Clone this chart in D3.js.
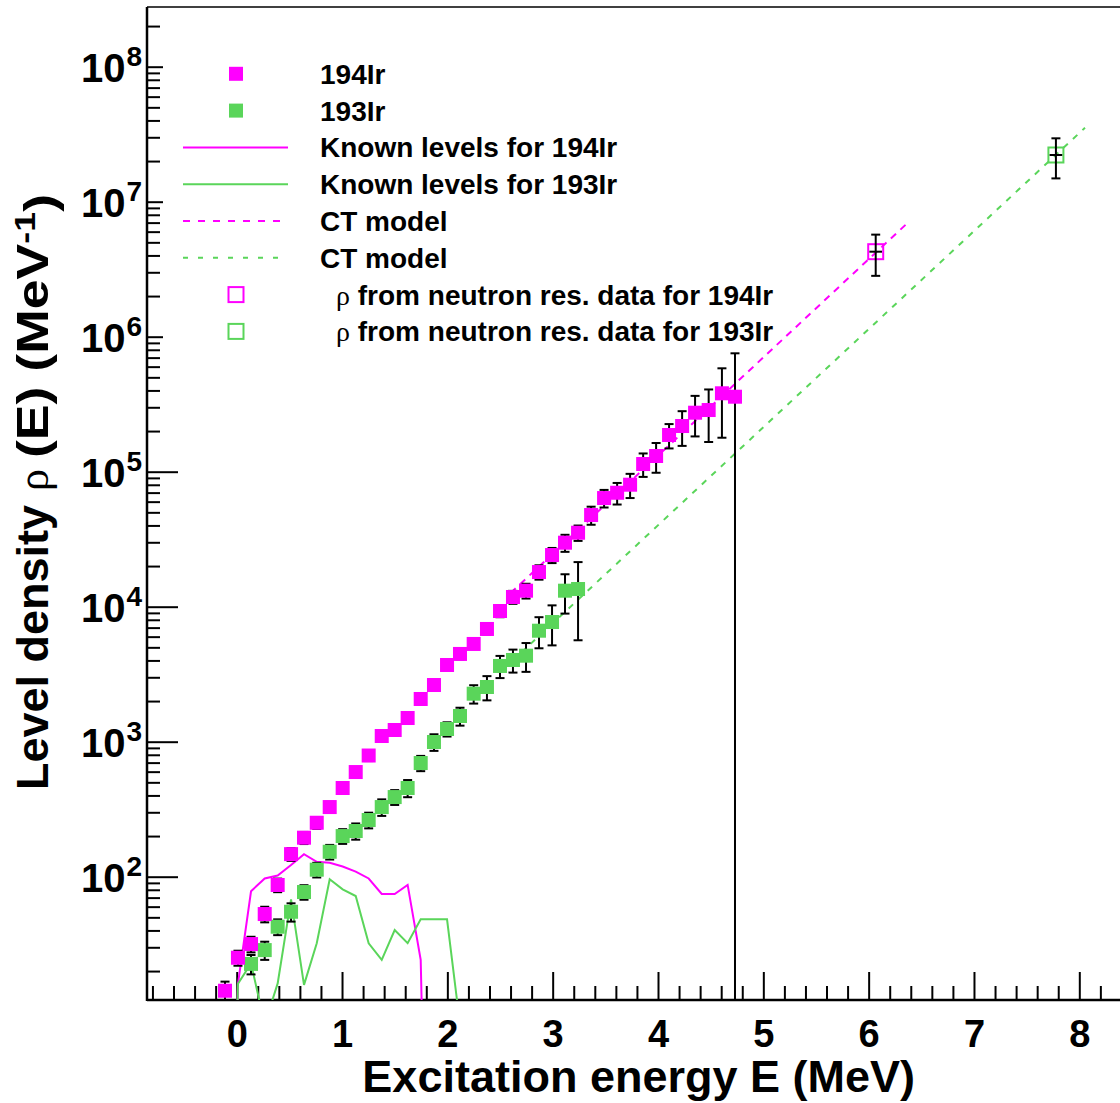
<!DOCTYPE html>
<html><head><meta charset="utf-8">
<script src="https://cdn.jsdelivr.net/npm/d3@7"></script>
<style>
body{margin:0;background:#fff}
svg{display:block}
text{font-family:"Liberation Sans",Arial,Helvetica,sans-serif;font-weight:bold;fill:#000}
</style>
</head><body>
<svg id="c" width="1120" height="1103"></svg>
<script>
// ---------------- data ----------------
const energy194 = [-0.111,0.012,0.136,0.266,0.389,0.516,0.639,0.760,0.883,1.006,1.130,1.253,1.377,1.500,1.623,1.747,1.873,1.997,2.120,2.250,2.376,2.500,2.623,2.747,2.870,2.994,3.117,3.241,3.365,3.488,3.612,3.735,3.859,3.982,4.105,4.229,4.352,4.481,4.607,4.731];
const rho194 = [14.3,25.1,31.7,52.9,86.8,147,194.5,251,328,454,596,790,1102,1221,1498,2072,2630,3700,4467,5297,6840,9290,11800,13140,18060,24140,29790,35320,47760,63800,69830,80100,114000,130700,187000,218000,273500,286300,380900,359300];
const err194 = [2.4,3.2,4.2,7.0,10,16,20,25,31,41,54,71,99,110,135,187,237,330,400,440,620,930,1300,1650,2200,3100,4300,4600,7300,9500,12700,16300,22500,32500,38300,62700,91000,120300,202400,394000];

const energy193 = [0.136,0.266,0.389,0.516,0.639,0.760,0.883,1.006,1.130,1.253,1.377,1.500,1.623,1.747,1.873,1.997,2.120,2.250,2.376,2.500,2.623,2.747,2.870,2.994,3.117,3.241];
const rho193 = [22.6,28.6,42.6,55.0,77.0,112.7,153,200,218,263,328,389,454,695,995,1242,1550,2268,2542,3640,4030,4336,6640,7700,13140,13520];
const err193 = [3.7,4.4,5.7,8.5,9.5,14,19,25,30,35,46,49,66,90,140,150,235,352,518,680,780,1045,1720,2530,4250,7880];

// known discrete levels (per MeV), same binning
const levelE = [-0.111,0.012,0.136,0.266,0.389,0.516,0.639,0.760,0.883,1.006,1.130,1.253,1.377,1.500,1.623,1.747,1.873,1.997,2.120,2.250];
const known194 = [0,16.1,78,97,102,122,147,129,127,119,109,97,74.5,74.5,87,24.2,0,0,0,0];
const known193 = [0,16.1,22.8,8.06,16.2,68,15.8,32.1,95.7,80.6,71.9,32.1,24.2,40.3,32.2,48.3,48.3,48.3,8.06,0];

// constant-temperature model lines (end points)
const ct194E = [2.60,6.36], ct194Rho = [12610,6.85e6];
const ct193E = [2.70,8.054], ct193Rho = [4560,3.53e7];

// rho from neutron resonance data
const nE194 = [6.067], nRho194 = [4.263e6], nErr194 = [1.44e6], nXErr194 = [0.06];
const nE193 = [7.778], nRho193 = [2.218e7], nErr193 = [7.3e6], nXErr193 = [0.06];

// ticks
const xMajor = [0,1,2,3,4,5,6,7,8];
const yMajor = [1e2,1e3,1e4,1e5,1e6,1e7,1e8];
const yExp = ["2","3","4","5","6","7","8"];

const legendLabels = ["194Ir","193Ir","Known levels for 194Ir","Known levels for 193Ir","CT model","CT model"," from neutron res. data for 194Ir"," from neutron res. data for 193Ir"];

// ---------------- drawing ----------------
const MAG = "#ff00ff", GRN = "#5ad55a";
const L = 147, T = 7, B = 1000, R = 1130;
const x = d3.scaleLinear().domain([0,8]).range([236.7,1079.3]);
const y = d3.scaleLog().domain([1e2,1e8]).range([876.7,66.7]);
const FLOOR = 1e-3;
const yv = v => y(v > 0 ? v : FLOOR);

const svg = d3.select("#c");
svg.append("defs").append("clipPath").attr("id","clip")
  .append("rect").attr("x",L).attr("y",T).attr("width",R-L).attr("height",B-T);

// axes ticks
const xMinor = d3.range(-8, 83, 2).map(v => v/10).filter(v => Math.abs(v - Math.round(v)) > 1e-6);
const gxMin = svg.append("g").attr("transform",`translate(0,${B})`)
  .call(d3.axisBottom(x).tickValues(xMinor).tickSize(-14).tickFormat(""));
const gxMaj = svg.append("g").attr("transform",`translate(0,${B})`)
  .call(d3.axisBottom(x).tickValues(xMajor).tickSize(-28).tickPadding(20).tickFormat(d3.format("d")));
gxMaj.selectAll("text").style("font-size","38px");

const yMinor = [];
for (let e = 1; e <= 8; e++) for (let m = 2; m <= 9; m++) { const v = m*Math.pow(10,e); if (v > 12.2 && v < 2.77e8) yMinor.push(v); }
const gyMin = svg.append("g").attr("transform",`translate(${L},0)`)
  .call(d3.axisLeft(y).tickValues(yMinor).tickSize(-13).tickFormat(""));
const gyMaj = svg.append("g").attr("transform",`translate(${L},0)`)
  .call(d3.axisLeft(y).tickValues(yMajor.slice(0,4)).tickSize(-31).tickFormat(""));
const gyMaj2 = svg.append("g").attr("transform",`translate(${L},0)`)
  .call(d3.axisLeft(y).tickValues(yMajor.slice(4)).tickSize(-16).tickFormat(""));
const gyLab = svg.append("g").attr("transform",`translate(${L},0)`)
  .call(d3.axisLeft(y).tickValues(yMajor).tickSize(0).tickPadding(5).tickFormat(() => "10"));
gyLab.selectAll("text").style("font-size","40px").attr("dy","0.36em").attr("textLength",null)
  .each(function(d,i){
    const t = d3.select(this);
    t.append("tspan").attr("dx","1").attr("dy","-0.55em").style("font-size","28px").text(yExp[i]);
  });
[gxMin,gxMaj,gyMin,gyMaj,gyMaj2,gyLab].forEach(g => { g.select(".domain").remove(); g.selectAll("line").attr("stroke","#000").attr("stroke-width",2); });

// frame lines
svg.append("line").attr("x1",L).attr("x2",1120).attr("y1",B).attr("y2",B).attr("stroke","#000").attr("stroke-width",2.5);
svg.append("line").attr("x1",L).attr("x2",L).attr("y1",T).attr("y2",B+1).attr("stroke","#000").attr("stroke-width",2.5);
svg.append("line").attr("x1",L).attr("x2",1120).attr("y1",T).attr("y2",T).attr("stroke","#000").attr("stroke-width",1.5);

const plot = svg.append("g").attr("clip-path","url(#clip)");
const line = d3.line().x(d => x(d[0])).y(d => yv(d[1]));

// known levels
plot.append("path").datum(levelE.map((e,i)=>[e,known194[i]])).attr("d",line)
  .attr("fill","none").attr("stroke",MAG).attr("stroke-width",2);
plot.append("path").datum(levelE.map((e,i)=>[e,known193[i]])).attr("d",line)
  .attr("fill","none").attr("stroke",GRN).attr("stroke-width",2);

// CT model
plot.append("path").datum(ct194E.map((e,i)=>[e,ct194Rho[i]])).attr("d",line)
  .attr("fill","none").attr("stroke",MAG).attr("stroke-width",2).attr("stroke-dasharray","7,6");
plot.append("path").datum(ct193E.map((e,i)=>[e,ct193Rho[i]])).attr("d",line)
  .attr("fill","none").attr("stroke",GRN).attr("stroke-width",2).attr("stroke-dasharray","6,7");

// error bars
function errBars(E, V, Er, cap) {
  const g = plot.append("g").attr("stroke","#000").attr("stroke-width",2);
  E.forEach((e,i) => {
    const cx = x(e), top = yv(V[i]+Er[i]), bot = yv(V[i]-Er[i]);
    g.append("line").attr("x1",cx).attr("x2",cx).attr("y1",top).attr("y2",bot);
    g.append("line").attr("x1",cx-cap).attr("x2",cx+cap).attr("y1",top).attr("y2",top);
    if (V[i]-Er[i] > 0) g.append("line").attr("x1",cx-cap).attr("x2",cx+cap).attr("y1",bot).attr("y2",bot);
  });
}
errBars(energy193, rho193, err193, 4.5);
errBars(energy194, rho194, err194, 4.5);

// markers
function squares(E, V, col) {
  plot.append("g").selectAll("rect").data(E).join("rect")
    .attr("x",(e)=>x(e)-7).attr("y",(e,i)=>yv(V[i])-7).attr("width",14).attr("height",14).attr("fill",col);
}
squares(energy193, rho193, GRN);
squares(energy194, rho194, MAG);

// neutron resonance points
function nPoint(E, V, Er, XEr, col) {
  E.forEach((e,i) => {
    const cx = x(e), cy = yv(V[i]);
    plot.append("rect").attr("x",cx-7.5).attr("y",cy-7.5).attr("width",15).attr("height",15)
      .attr("fill","none").attr("stroke",col).attr("stroke-width",2);
    const g = plot.append("g").attr("stroke","#000").attr("stroke-width",2);
    const top = yv(V[i]+Er[i]), bot = yv(V[i]-Er[i]);
    g.append("line").attr("x1",cx).attr("x2",cx).attr("y1",top).attr("y2",bot);
    g.append("line").attr("x1",cx-4.5).attr("x2",cx+4.5).attr("y1",top).attr("y2",top);
    g.append("line").attr("x1",cx-4.5).attr("x2",cx+4.5).attr("y1",bot).attr("y2",bot);
    g.append("line").attr("x1",x(e-XEr[i])).attr("x2",x(e+XEr[i])).attr("y1",cy).attr("y2",cy);
  });
}
nPoint(nE194, nRho194, nErr194, nXErr194, MAG);
nPoint(nE193, nRho193, nErr193, nXErr193, GRN);

// legend
const rows = [73.8,110.6,147.4,184.2,221,257.8,294.6,331.4];
const lg = svg.append("g");
const mx = 236;
lg.append("rect").attr("x",mx-7).attr("y",rows[0]-7).attr("width",14).attr("height",14).attr("fill",MAG);
lg.append("rect").attr("x",mx-7).attr("y",rows[1]-7).attr("width",14).attr("height",14).attr("fill",GRN);
lg.append("line").attr("x1",183).attr("x2",288).attr("y1",rows[2]).attr("y2",rows[2]).attr("stroke",MAG).attr("stroke-width",2);
lg.append("line").attr("x1",183).attr("x2",288).attr("y1",rows[3]).attr("y2",rows[3]).attr("stroke",GRN).attr("stroke-width",2);
lg.append("line").attr("x1",183).attr("x2",288).attr("y1",rows[4]).attr("y2",rows[4]).attr("stroke",MAG).attr("stroke-width",2).attr("stroke-dasharray","7,8");
lg.append("line").attr("x1",183).attr("x2",288).attr("y1",rows[5]).attr("y2",rows[5]).attr("stroke",GRN).attr("stroke-width",2).attr("stroke-dasharray","5,10");
lg.append("rect").attr("x",mx-7.5).attr("y",rows[6]-7.5).attr("width",15).attr("height",15).attr("fill","none").attr("stroke",MAG).attr("stroke-width",2);
lg.append("rect").attr("x",mx-7.5).attr("y",rows[7]-7.5).attr("width",15).attr("height",15).attr("fill","none").attr("stroke",GRN).attr("stroke-width",2);
legendLabels.forEach((s,i) => {
  const t = lg.append("text").attr("y",rows[i]+10).style("font-size","28px");
  if (i < 6) { t.attr("x",320).text(s); }
  else {
    t.append("tspan").attr("x",336).style("font-family","'Liberation Serif',serif").style("font-weight","normal").text("\u03c1");
    t.append("tspan").attr("x",350).attr("xml:space","preserve").style("white-space","pre").text(s);
  }
});

// axis titles
svg.append("text").attr("x",915).attr("y",1092).attr("text-anchor","end").style("font-size","45px").text("Excitation energy E (MeV)");
const yt = svg.append("g").attr("transform","rotate(-90)");
yt.append("text").attr("x",-790).attr("y",48).attr("text-anchor","start").style("font-size","45px").text("Level density");
yt.append("text").attr("x",-480).attr("y",48).attr("text-anchor","middle").style("font-size","45px")
  .style("font-family","'Liberation Serif',serif").style("font-weight","normal").text("\u03c1");
const t3 = yt.append("text").attr("x",-458).attr("y",48).attr("text-anchor","start").style("font-size","45px")
  .attr("textLength",264).attr("lengthAdjust","spacingAndGlyphs");
t3.append("tspan").text("(E) (MeV");
t3.append("tspan").attr("dy","-0.45em").style("font-size","30px").text("-1");
t3.append("tspan").attr("dy","0.45em").text(")");
</script>
</body></html>
